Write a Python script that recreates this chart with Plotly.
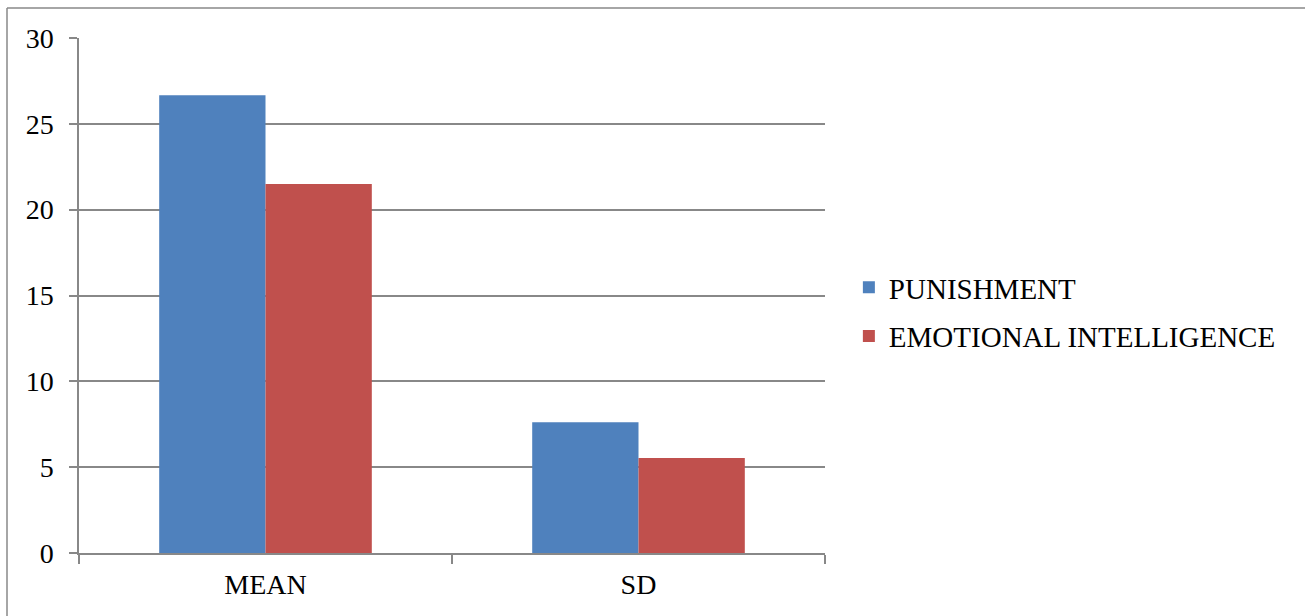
import plotly.graph_objects as go

categories = ["MEAN", "SD"]
punishment = [26.66, 7.62]
emotional_intelligence = [21.5, 5.53]
y_ticks = [0, 5, 10, 15, 20, 25, 30]

W, H = 1305, 616
L, R, T, B = 79, 480, 38, 63
GRID = "#888888"
FONT = dict(family="Liberation Serif", size=28, color="black")
LEGEND_FONT = dict(family="Liberation Serif", size=29, color="black")

fig = go.Figure()
fig.add_bar(name="PUNISHMENT", x=categories, y=punishment,
            marker=dict(color="#4F81BD", line=dict(width=0)), legendgroup="a")
fig.add_bar(name="EMOTIONAL INTELLIGENCE", x=categories, y=emotional_intelligence,
            marker=dict(color="#C0504D", line=dict(width=0)), legendgroup="b")

fig.update_layout(
    width=W, height=H,
    margin=dict(l=L, r=R, t=T, b=B, autoexpand=False),
    paper_bgcolor="white", plot_bgcolor="white",
    font=FONT,
    barmode="group", bargap=0.43, bargroupgap=0,
    showlegend=True,
    legend=dict(x=1.032, y=0.468, xanchor="left", yanchor="middle",
                font=LEGEND_FONT, tracegroupgap=8, bgcolor="rgba(0,0,0,0)"),
    xaxis=dict(showgrid=False, showline=True, linecolor=GRID, linewidth=1.5,
               ticks="outside", ticklen=9, tickcolor=GRID, tickwidth=1.5,
               tickson="boundaries", ticklabelstandoff=6, tickfont=FONT),
    yaxis=dict(range=[0, 30], tickvals=y_ticks, showgrid=True, gridcolor=GRID,
               gridwidth=1.5, showline=True, linecolor=GRID, linewidth=1.5,
               ticks="outside", ticklen=8, tickcolor=GRID, tickwidth=1.5,
               ticklabelstandoff=10, zeroline=False, tickfont=FONT),
    shapes=[
        dict(type="line", xref="paper", yref="paper",
             x0=(7 - L) / (W - L - R), x1=(W + 5 - L) / (W - L - R),
             y0=(H - B - 8) / (H - T - B), y1=(H - B - 8) / (H - T - B),
             line=dict(color=GRID, width=1.5)),
        dict(type="line", xref="paper", yref="paper",
             x0=(7 - L) / (W - L - R), x1=(7 - L) / (W - L - R),
             y0=(H - B - 8) / (H - T - B), y1=-(B + 5) / (H - T - B),
             line=dict(color=GRID, width=1.5)),
    ],
)

fig.write_html("out.html")
